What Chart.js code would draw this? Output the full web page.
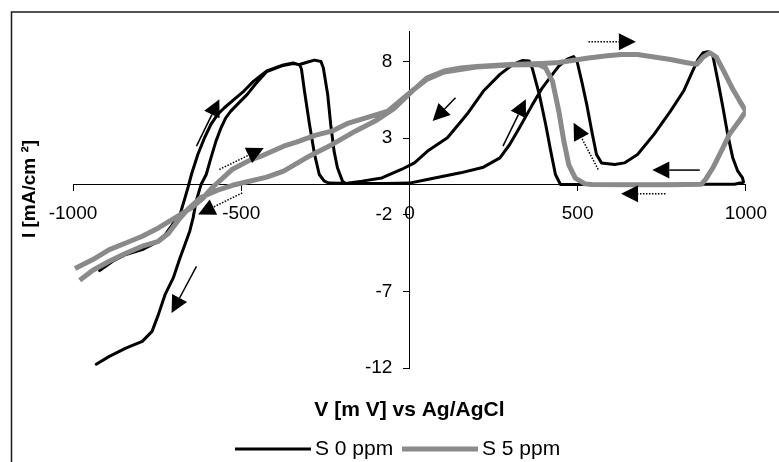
<!DOCTYPE html>
<html>
<head>
<meta charset="utf-8">
<script src="https://cdn.jsdelivr.net/npm/chart.js@4.4.1/dist/chart.umd.min.js"></script>
<style>
  html, body { margin: 0; padding: 0; background: #fff; }
  #wrap { position: relative; width: 779px; height: 462px; }
</style>
</head>
<body>
<div id="wrap"><canvas id="cv" width="779" height="462"></canvas></div>
<script>
// Cyclic voltammograms: potential V (mV vs Ag/AgCl) and current density I (mA/cm²), in sweep order.
const s0Volt = [
  -921, -882, -843, -794, -755, -726, -697, -682, -670, -658, -648, -629, -609, -590, -570, -550, -521, -492, -463, -424, -375, -346, -326,
  -321, -312, -297, -282, -268, -253, -239,
  -160, -73, 0, 53, 152, 220, 269, 298, 327, 366, 395, 425, 444, 469, 488,
  498, 512, 527, 542, 556, 571, 610, 639, 678, 727, 776, 815, 844, 858, 873, 888, 902, 917, 932, 946, 961, 976, 990, 993,
  966, 834, 688, 542, 449,
  434, 420, 405, 386, 366, 356, 337, 308,
  269, 220, 171, 113, 54, 15, -24, -82, -141, -190,
  -199, -214, -224, -234, -243, -256, -263, -282, -307, -326, -346, -375, -424, -458,
  -482, -507, -531, -546, -560, -575, -590, -604, -619, -634, -643, -653, -667, -682, -702, -726, -746, -765, -794, -843, -892, -931
];
const s0Curr = [
  -5.64, -5.03, -4.59, -4.27, -3.84, -3.29, -2.42, -1.98, -1.11, -0.20, 0.63, 1.94, 3.03, 3.90, 4.56, 4.99, 5.54, 6.08, 6.73, 7.39, 7.78, 7.91, 7.78,
  7.52, 6.08, 3.90, 1.94, 0.63, 0.20, 0.07,
  0.05, 0.05, 0.07, 0.31, 0.74, 1.11, 1.72, 2.59, 3.68, 5.21, 6.29, 7.17, 7.71, 8.17, 8.33,
  8.04, 6.73, 5.21, 3.46, 1.94, 1.39, 1.29, 1.39, 1.94, 3.25, 4.77, 6.08, 7.50, 8.15, 8.58, 8.65, 8.37, 6.73, 4.99, 3.25, 1.72, 0.85, 0.41, 0.13,
  0.0, 0.0, -0.02, -0.02, -0.02,
  0.63, 2.16, 3.90, 5.86, 7.50, 8.04, 8.08, 7.82,
  7.17, 6.08, 4.56, 3.03, 2.16, 1.39, 0.96, 0.41, 0.20, 0.05,
  0.20, 1.07, 2.16, 3.90, 5.86, 7.60, 8.01, 8.10, 7.94, 7.81, 7.88, 7.75, 7.35, 6.52,
  5.86, 5.31, 4.77, 4.33, 3.68, 2.81, 1.72, 0.63, 0.0, -1.11, -2.20, -3.07, -3.92, -4.82, -6.12, -7.19, -8.50, -9.61, -10.26, -10.70, -11.24, -11.75
];

const s5Volt = [
  -994, -941, -892, -843, -794, -746, -697, -648, -614, -585, -555, -526, -474, -433, -374, -336, -278, -231, -181, -122, -64, -29,
  15, 53, 103, 152, 199, 249, 298, 346, 395, 444, 483, 532, 581, 629, 678, 727, 776, 825, 854, 873, 893, 912, 932, 961, 980, 1000,
  980, 951, 927, 902, 881, 868, 776, 659, 542, 522, 493, 474, 459, 444, 425, 405, 384, 298, 199, 103, 53, 15,
  -44, -102, -161, -228, -298, -374, -424, -482, -526, -570, -619, -658, -687, -716, -746, -794, -843, -892, -941, -980
];
const s5Curr = [
  -5.51, -4.92, -4.27, -3.84, -3.40, -2.86, -2.20, -1.55, -0.92, -0.20, 0.39, 0.98, 1.57, 1.90, 2.48, 2.75, 3.20, 3.46, 3.99, 4.38, 4.77, 5.42,
  6.21, 6.95, 7.39, 7.58, 7.68, 7.75, 7.81, 7.84, 7.88, 7.94, 8.07, 8.24, 8.37, 8.46, 8.46, 8.30, 8.14, 7.93, 7.82, 8.30, 8.58, 8.30, 7.48, 6.21, 5.49, 4.77,
  4.12, 3.25, 2.16, 1.07, 0.33, 0.0, -0.03, -0.03, -0.02, 0.02, 0.39, 1.24, 2.81, 4.77, 6.73, 7.58, 7.81, 7.78, 7.65, 7.32, 6.86, 6.21,
  4.97, 4.12, 3.46, 2.61, 1.83, 0.85, 0.46, 0.16, -0.07, -0.39, -0.85, -1.63, -2.35, -3.20, -3.73, -4.05, -4.51, -5.03, -5.62, -6.27
];

const seriesNames = ['S 0 ppm', 'S 5 ppm'];
const xTicks = [-1000, -500, 0, 500, 1000];
const yTicks = [-12, -7, -2, 3, 8];

// Sweep-direction arrows, in data units: [fromV, fromI, toV, toI]
const solidArrows = [
  [-633, 2.48, -565, 5.54],
  [-633, -5.36, -707, -8.41],
  [137, 5.64, 69, 4.12],
  [278, 2.48, 346, 5.54],
  [863, 0.92, 722, 0.92]
];
const dottedArrows = [
  [-565, 0.96, -433, 2.37],
  [-497, -0.57, -628, -1.98],
  [532, 9.30, 673, 9.30],
  [761, -0.63, 629, -0.63],
  [561, 0.96, 488, 4.01]
];

const FONT = '"Liberation Sans", Arial, sans-serif';
const BLACK = '#000000';
const GREY = '#8a8a8a';

const toPoints = (vs, is) => vs.map((v, k) => ({ x: v, y: is[k] }));

function drawArrow(ctx, xs, ys, a, dotted) {
  const x0 = xs.getPixelForValue(a[0]), y0 = ys.getPixelForValue(a[1]);
  const x1 = xs.getPixelForValue(a[2]), y1 = ys.getPixelForValue(a[3]);
  const ang = Math.atan2(y1 - y0, x1 - x0);
  const headLen = 17, headHalf = 8.5;
  const bx = x1 - headLen * Math.cos(ang), by = y1 - headLen * Math.sin(ang);
  ctx.save();
  ctx.strokeStyle = '#000';
  ctx.fillStyle = '#000';
  ctx.lineWidth = 1.5;
  if (dotted) ctx.setLineDash([1.5, 1.5]);
  ctx.beginPath();
  ctx.moveTo(x0, y0);
  ctx.lineTo(bx, by);
  ctx.stroke();
  ctx.setLineDash([]);
  ctx.beginPath();
  ctx.moveTo(x1, y1);
  ctx.lineTo(bx + headHalf * Math.sin(ang), by - headHalf * Math.cos(ang));
  ctx.lineTo(bx - headHalf * Math.sin(ang), by + headHalf * Math.cos(ang));
  ctx.closePath();
  ctx.fill();
  ctx.restore();
}

const decor = {
  id: 'decor',
  beforeDraw(chart) {
    const ctx = chart.ctx;
    ctx.save();
    ctx.fillStyle = '#fff';
    ctx.fillRect(0, 0, chart.width, chart.height);
    // chart frame (left and top edges fall inside the canvas)
    ctx.strokeStyle = '#1a1a1a';
    ctx.lineWidth = 1.5;
    ctx.strokeRect(11.5, 12, chart.width + 20, chart.height + 20);
    ctx.restore();
  },
  afterDraw(chart) {
    const { ctx, chartArea, scales } = chart;
    solidArrows.forEach(a => drawArrow(ctx, scales.x, scales.y, a, false));
    dottedArrows.forEach(a => drawArrow(ctx, scales.x, scales.y, a, true));

    ctx.save();
    ctx.fillStyle = '#000';
    ctx.textBaseline = 'middle';

    // value labels of the vertical axis, set off to the left of its tick marks
    ctx.font = '19px ' + FONT;
    ctx.textAlign = 'right';
    const axisX = scales.x.getPixelForValue(0);
    yTicks.forEach(v => ctx.fillText(String(v), axisX - 17, scales.y.getPixelForValue(v)));

    // axis titles
    ctx.font = 'bold 21px ' + FONT;
    ctx.textAlign = 'center';
    ctx.fillText('V [m V] vs Ag/AgCl', (chartArea.left + chartArea.right) / 2, 410);
    ctx.save();
    ctx.translate(30, 189);
    ctx.rotate(-Math.PI / 2);
    ctx.font = 'bold 19px ' + FONT;
    ctx.fillText('I [mA/cm ²]', 0, 0);
    ctx.restore();

    // legend
    const items = chart.data.datasets;
    const legendY = 449;
    const starts = [235, 402];
    ctx.font = '21px ' + FONT;
    ctx.textAlign = 'left';
    items.forEach((ds, k) => {
      const x0 = starts[k];
      ctx.strokeStyle = ds.borderColor;
      ctx.lineWidth = ds.borderWidth;
      ctx.beginPath();
      ctx.moveTo(x0, legendY);
      ctx.lineTo(x0 + 76, legendY);
      ctx.stroke();
      ctx.fillStyle = '#000';
      ctx.fillText(ds.label, x0 + 80, legendY);
    });
    ctx.restore();
  }
};

const axisCommon = {
  type: 'linear',
  grid: { display: true, drawOnChartArea: false, drawTicks: true, tickLength: 6, color: '#000', lineWidth: 1 },
  border: { display: true, color: '#000', width: 1 },
  title: { display: false }
};

new Chart(document.getElementById('cv'), {
  type: 'scatter',
  data: {
    datasets: [
      {
        label: seriesNames[0],
        data: toPoints(s0Volt, s0Curr),
        showLine: true,
        borderColor: BLACK,
        backgroundColor: BLACK,
        borderWidth: 3,
        pointRadius: 0,
        tension: 0,
        borderJoinStyle: 'round',
        borderCapStyle: 'round',
        order: 1
      },
      {
        label: seriesNames[1],
        data: toPoints(s5Volt, s5Curr),
        showLine: true,
        borderColor: GREY,
        backgroundColor: GREY,
        borderWidth: 5,
        pointRadius: 0,
        tension: 0,
        borderJoinStyle: 'round',
        order: 0
      }
    ]
  },
  options: {
    responsive: false,
    animation: false,
    devicePixelRatio: 1,
    layout: { padding: { left: 73, right: 22, top: 31, bottom: 94 } },
    plugins: { legend: { display: false }, tooltip: { enabled: false }, title: { display: false } },
    scales: {
      x: Object.assign({}, axisCommon, {
        position: { y: 0 },
        min: -1000, max: 1000,
        afterBuildTicks: s => { s.ticks = xTicks.map(v => ({ value: v })); },
        ticks: {
          font: { family: FONT, size: 19 }, color: '#000', padding: 12, maxRotation: 0, autoSkip: false,
          callback: v => String(v)
        }
      }),
      y: Object.assign({}, axisCommon, {
        position: { x: 0 },
        min: -12, max: 10,
        afterBuildTicks: s => { s.ticks = yTicks.map(v => ({ value: v })); },
        ticks: { display: false }
      })
    }
  },
  plugins: [decor]
});
</script>
</body>
</html>
